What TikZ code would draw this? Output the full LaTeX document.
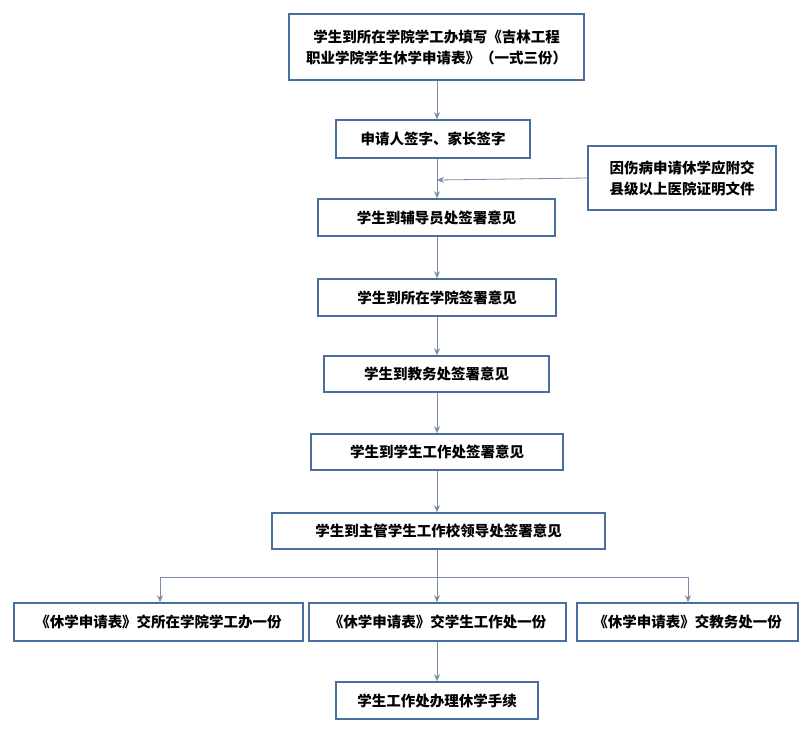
\documentclass[tikz,border=0pt]{standalone}
\usepackage{fontspec}
\newfontfamily\cjk{Noto Sans CJK SC}
\usetikzlibrary{arrows.meta}
\definecolor{bd}{RGB}{75,110,160}
\definecolor{ln}{RGB}{120,140,170}
\tikzset{box/.style={draw=bd,line width=1.6pt,fill=white,align=center,inner sep=0pt,font=\cjk\fontsize{14.5}{21}\selectfont\bfseries},
 arr/.style={draw=ln,line width=0.8pt,-{Stealth[length=7pt,width=6pt]}}}
\begin{document}
\begin{tikzpicture}[x=1pt,y=-1pt]
\useasboundingbox (0,0) rectangle (812,737);
\node[box,minimum width=295,minimum height=66] (a) at (436.5,47) {学生到所在学院学工办填写《吉林工程\\职业学院学生休学申请表》（一式三份）};
\node[box,minimum width=194,minimum height=38] (b) at (433,139) {申请人签字、家长签字};
\node[box,minimum width=188,minimum height=64] (s) at (682,178) {因伤病申请休学应附交\\县级以上医院证明文件};
\node[box,minimum width=237,minimum height=37] (c) at (436.5,217.5) {学生到辅导员处签署意见};
\node[box,minimum width=238,minimum height=37] (d) at (437,297.5) {学生到所在学院签署意见};
\node[box,minimum width=225,minimum height=36] (e) at (436.5,374) {学生到教务处签署意见};
\node[box,minimum width=252,minimum height=36] (f) at (437,452) {学生到学生工作处签署意见};
\node[box,minimum width=333,minimum height=36] (g) at (438.5,531) {学生到主管学生工作校领导处签署意见};
\node[box,minimum width=289,minimum height=38] (h1) at (158.5,622) {《休学申请表》交所在学院学工办一份};
\node[box,minimum width=257,minimum height=38] (h2) at (437.5,622) {《休学申请表》交学生工作处一份};
\node[box,minimum width=221,minimum height=38] (h3) at (687.5,622) {《休学申请表》交教务处一份};
\node[box,minimum width=202,minimum height=37] (i) at (437,700.5) {学生工作处办理休学手续};
\coordinate (x0) at (437,0);
\draw[arr] (a.south -| x0) -- (b.north -| x0);
\draw[arr] (b.south -| x0) -- (c.north -| x0);
\coordinate (m) at (437,180);
\draw[arr] (s.west) -- (m);
\draw[arr] (c.south -| x0) -- (d.north -| x0);
\draw[arr] (d.south -| x0) -- (e.north -| x0);
\draw[arr] (e.south -| x0) -- (f.north -| x0);
\draw[arr] (f.south -| x0) -- (g.north -| x0);
\coordinate (j) at (437,577);
\coordinate (jl) at (160,577);
\coordinate (jr) at (688,577);
\draw[draw=ln,line width=0.8pt] (g.south -| j) -- (j);
\draw[draw=ln,line width=0.8pt] (jl) -- (jr);
\draw[arr] (jl) -- (h1.north -| jl);
\draw[arr] (j) -- (h2.north -| j);
\draw[arr] (jr) -- (h3.north -| jr);
\draw[arr] (h2.south -| x0) -- (i.north -| x0);
\end{tikzpicture}
\end{document}
